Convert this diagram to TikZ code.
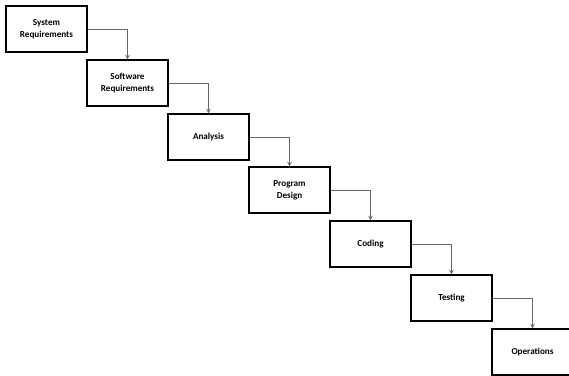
\documentclass[tikz,border=0pt]{standalone}
\usepackage{fontspec}
\setmainfont{Carlito}
\usepackage{xcolor}
\usepackage{tikz}
\usetikzlibrary{shapes,arrows,positioning,calc}

\begin{document}
\begin{tikzpicture}[
  x=0.03cm, y=-0.03cm,
  stage/.style={draw, rectangle, line width=1.1pt, minimum width=2.43cm, minimum height=1.38cm,
    align=center, font=\fontsize{7.8}{10}\selectfont\bfseries, inner sep=0pt},
  flow/.style={->, >=stealth, line width=0.75pt, draw=gray!80!black}
]
\useasboundingbox (0,0) rectangle (569,376);
\node[stage] (sysreq) at (46.5,29) {System\\Requirements};
\node[stage] (swreq) at (127.5,83) {Software\\Requirements};
\node[stage] (analysis) at (208.5,137) {Analysis};
\node[stage] (design) at (289.5,190) {Program\\Design};
\node[stage] (coding) at (370.5,244) {Coding};
\node[stage] (testing) at (451.5,298) {Testing};
\node[stage] (ops) at (532.5,352) {Operations};
\draw[flow] (sysreq.east) -| (swreq.north);
\draw[flow] (swreq.east) -| (analysis.north);
\draw[flow] (analysis.east) -| (design.north);
\draw[flow] (design.east) -| (coding.north);
\draw[flow] (coding.east) -| (testing.north);
\draw[flow] (testing.east) -| (ops.north);
\end{tikzpicture}
\end{document}
